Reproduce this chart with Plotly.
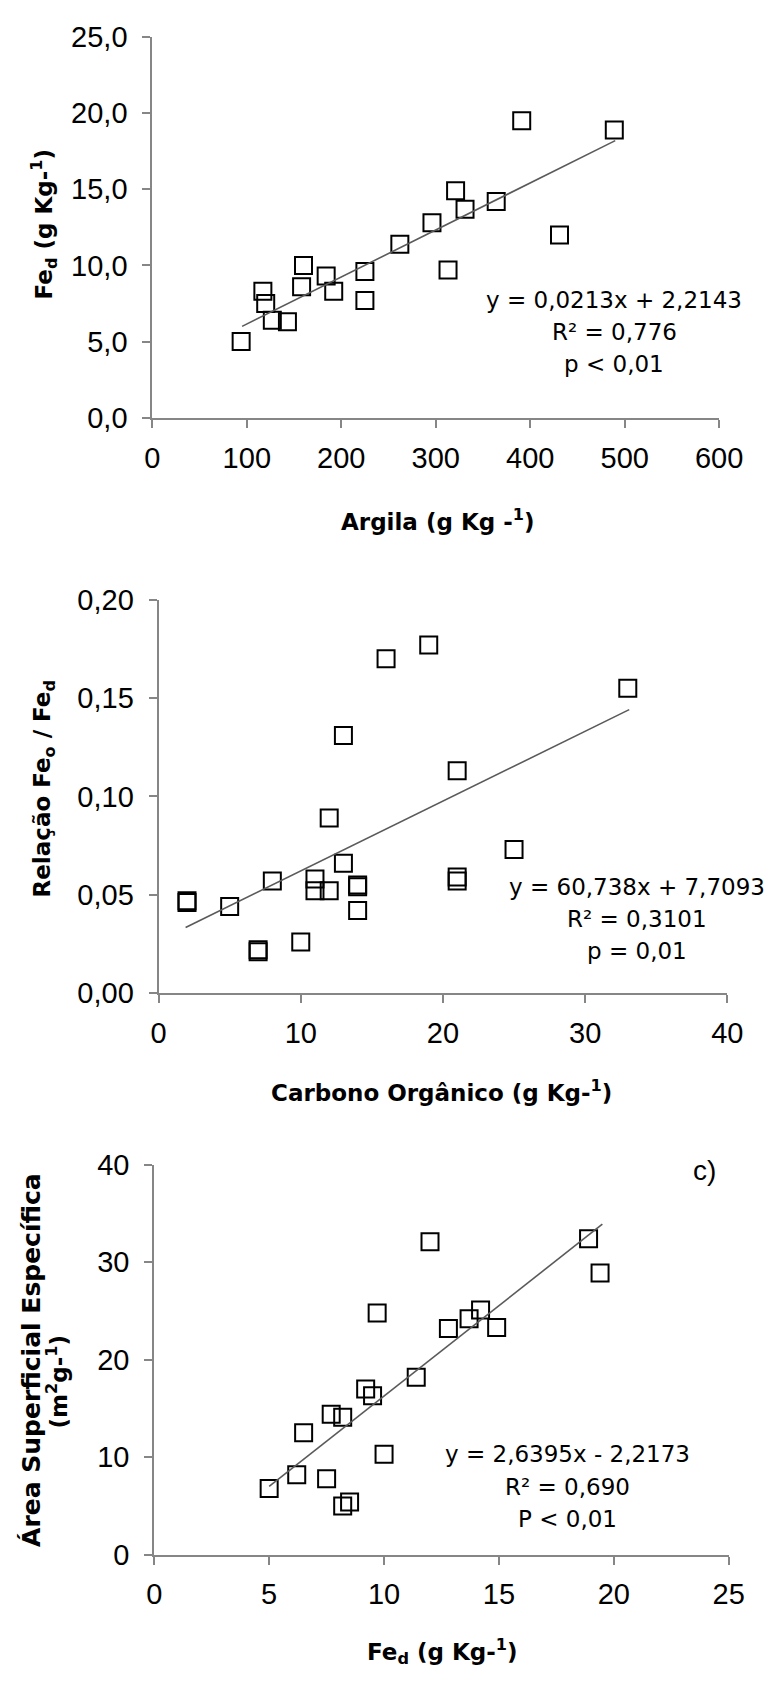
import plotly.graph_objects as go

# ---------------- data ----------------
# Panel a: Argila vs Fe_d
argila = [94, 117, 120, 127, 143, 160, 158, 184, 192, 225, 225, 262, 296, 313, 321, 331, 364, 391, 431, 489]
fed_a = [5.0, 8.3, 7.5, 6.4, 6.3, 10.0, 8.6, 9.3, 8.3, 9.6, 7.7, 11.4, 12.8, 9.7, 14.9, 13.7, 14.2, 19.5, 12.0, 18.9]
trend_a_x = [95, 490]
trend_a_y = [6.0, 18.2]

# Panel b: Carbono Orgânico vs Feo/Fed
carbono = [2, 2, 5, 7, 7, 8, 10, 11, 11, 12, 12, 13, 13, 14, 14, 14, 16, 19, 21, 21, 21, 25, 33]
relacao = [0.047, 0.046, 0.044, 0.022, 0.021, 0.057, 0.026, 0.058, 0.052, 0.052, 0.089,
           0.066, 0.131, 0.055, 0.054, 0.042, 0.170, 0.177, 0.113, 0.059, 0.057, 0.073, 0.155]
trend_b_x = [1.9, 33.1]
trend_b_y = [0.0333, 0.1441]

# Panel c: Fe_d vs Area superficial especifica
fed_c = [5.0, 6.2, 6.5, 7.5, 7.7, 8.2, 8.2, 8.5, 9.2, 9.5, 9.7, 10.0, 11.4, 12.0, 12.8, 13.7, 14.2, 14.9, 18.9, 19.4]
area = [6.8, 8.2, 12.5, 7.8, 14.4, 14.1, 5.0, 5.4, 17.0, 16.3, 24.8, 10.3, 18.2, 32.1, 23.2, 24.2, 25.1, 23.3, 32.4, 28.9]
trend_c_x = [5.0, 19.5]
trend_c_y = [7.0, 33.9]

# tick values
xticks_a = [0, 100, 200, 300, 400, 500, 600]
yticks_a = [0, 5, 10, 15, 20, 25]
xticks_b = [0, 10, 20, 30, 40]
yticks_b = [0, 0.05, 0.10, 0.15, 0.20]
xticks_c = [0, 5, 10, 15, 20, 25]
yticks_c = [0, 10, 20, 30, 40]

eq_a = ["y = 0,0213x + 2,2143", "R² = 0,776", "p < 0,01"]
eq_b = ["y = 60,738x + 7,7093", "R² = 0,3101", "p = 0,01"]
eq_c = ["y = 2,6395x - 2,2173", "R² = 0,690", "P < 0,01"]

# ---------------- layout helpers ----------------
W, H = 782, 1684
def px(x):
    return x / W
def py(y):
    return 1 - y / H

TICKFONT = dict(family="Liberation Sans Narrow, Arial Narrow, Liberation Sans, Arial, sans-serif", size=29, color="black")
TITLEFONT = dict(family="DejaVu Sans, Verdana, sans-serif", size=23, color="black")
EQFONT = dict(family="DejaVu Sans, Verdana, sans-serif", size=23, color="black")
AXCOL = "#868686"

fig = go.Figure()

marker = dict(symbol="square-open", size=17, color="black", line=dict(width=2, color="black"))
trendline = dict(color="#5a5a5a", width=1.6)

fig.add_trace(go.Scatter(x=argila, y=fed_a, mode="markers", marker=marker, xaxis="x", yaxis="y", showlegend=False))
fig.add_trace(go.Scatter(x=trend_a_x, y=trend_a_y, mode="lines", line=trendline, xaxis="x", yaxis="y", showlegend=False))
fig.add_trace(go.Scatter(x=carbono, y=relacao, mode="markers", marker=marker, xaxis="x2", yaxis="y2", showlegend=False))
fig.add_trace(go.Scatter(x=trend_b_x, y=trend_b_y, mode="lines", line=trendline, xaxis="x2", yaxis="y2", showlegend=False))
fig.add_trace(go.Scatter(x=fed_c, y=area, mode="markers", marker=marker, xaxis="x3", yaxis="y3", showlegend=False))
fig.add_trace(go.Scatter(x=trend_c_x, y=trend_c_y, mode="lines", line=trendline, xaxis="x3", yaxis="y3", showlegend=False))

def xax(dom, rng, ticks, anchor):
    return dict(domain=dom, range=rng, tickvals=ticks, tickformat="d", anchor=anchor,
                showline=True, linecolor=AXCOL, linewidth=2, ticks="outside", ticklen=8,
                tickcolor=AXCOL, tickwidth=2, showgrid=False, zeroline=False,
                tickfont=TICKFONT, ticklabelstandoff=5, fixedrange=True)

def yax(dom, rng, ticks, fmt, anchor):
    return dict(domain=dom, range=rng, tickvals=ticks, tickformat=fmt, anchor=anchor,
                showline=True, linecolor=AXCOL, linewidth=2, ticks="outside", ticklen=8,
                tickcolor=AXCOL, tickwidth=2, showgrid=False, zeroline=False,
                tickfont=TICKFONT, ticklabelstandoff=9, fixedrange=True)

fig.update_layout(
    width=W, height=H,
    margin=dict(l=0, r=0, t=0, b=0),
    paper_bgcolor="white", plot_bgcolor="white",
    separators=",.",
    xaxis=xax([px(150.5), px(741.5)], [0, 600], xticks_a, "y"),
    yaxis=yax([py(409.5), py(21.5)], [0, 25], yticks_a, ".1f", "x"),
    xaxis2=xax([px(157), px(750)], [0, 40], xticks_b, "y2"),
    yaxis2=yax([py(996), py(595)], [0, 0.20], yticks_b, ".2f", "x2"),
    xaxis3=xax([px(152.5), px(751.5)], [0, 25], xticks_c, "y3"),
    yaxis3=yax([py(1568.5), py(1171)], [0, 40], yticks_c, "d", "x3"),
)

ann = []
def add(text, x, y, font, angle=0):
    ann.append(dict(text=text, x=px(x), y=py(y), xref="paper", yref="paper",
                    xanchor="center", yanchor="middle", showarrow=False,
                    font=font, textangle=angle))

# axis titles
bold = dict(TITLEFONT)
add("<b>Argila (g Kg -<sup>1</sup>)</b>", 448, 514, bold)
add("<b>Fe<sub>d</sub> (g Kg-<sup>1</sup>)</b>", 38, 212, bold, -90)
add("<b>Carbono Orgânico (g Kg-<sup>1</sup>)</b>", 452, 1096, bold)
add("<b>Relação Fe<sub>o</sub> / Fe<sub>d</sub></b>", 38, 788, bold, -90)
add("<b>Fe<sub>d</sub> (g Kg-<sup>1</sup>)</b>", 453, 1667, bold)
add("<b>Área Superficial Específica</b>", 25, 1370, dict(TITLEFONT, size=25), -90)
add("<b>(m<sup>2</sup>g-<sup>1</sup>)</b>", 51, 1392, bold, -90)

# equations
for t, yy in zip(eq_a, [289, 322, 355]):
    add(t, 632, yy, EQFONT)
for t, yy in zip(eq_b, [888, 921, 953]):
    add(t, 656, yy, EQFONT)
for t, yy in zip(eq_c, [1466, 1499, 1532]):
    add(t, 583, yy, EQFONT)

add("c)", 726, 1177, dict(family="Liberation Sans, Arial, sans-serif", size=28, color="black"))

fig.update_layout(annotations=ann)
fig.write_html("out.html")
